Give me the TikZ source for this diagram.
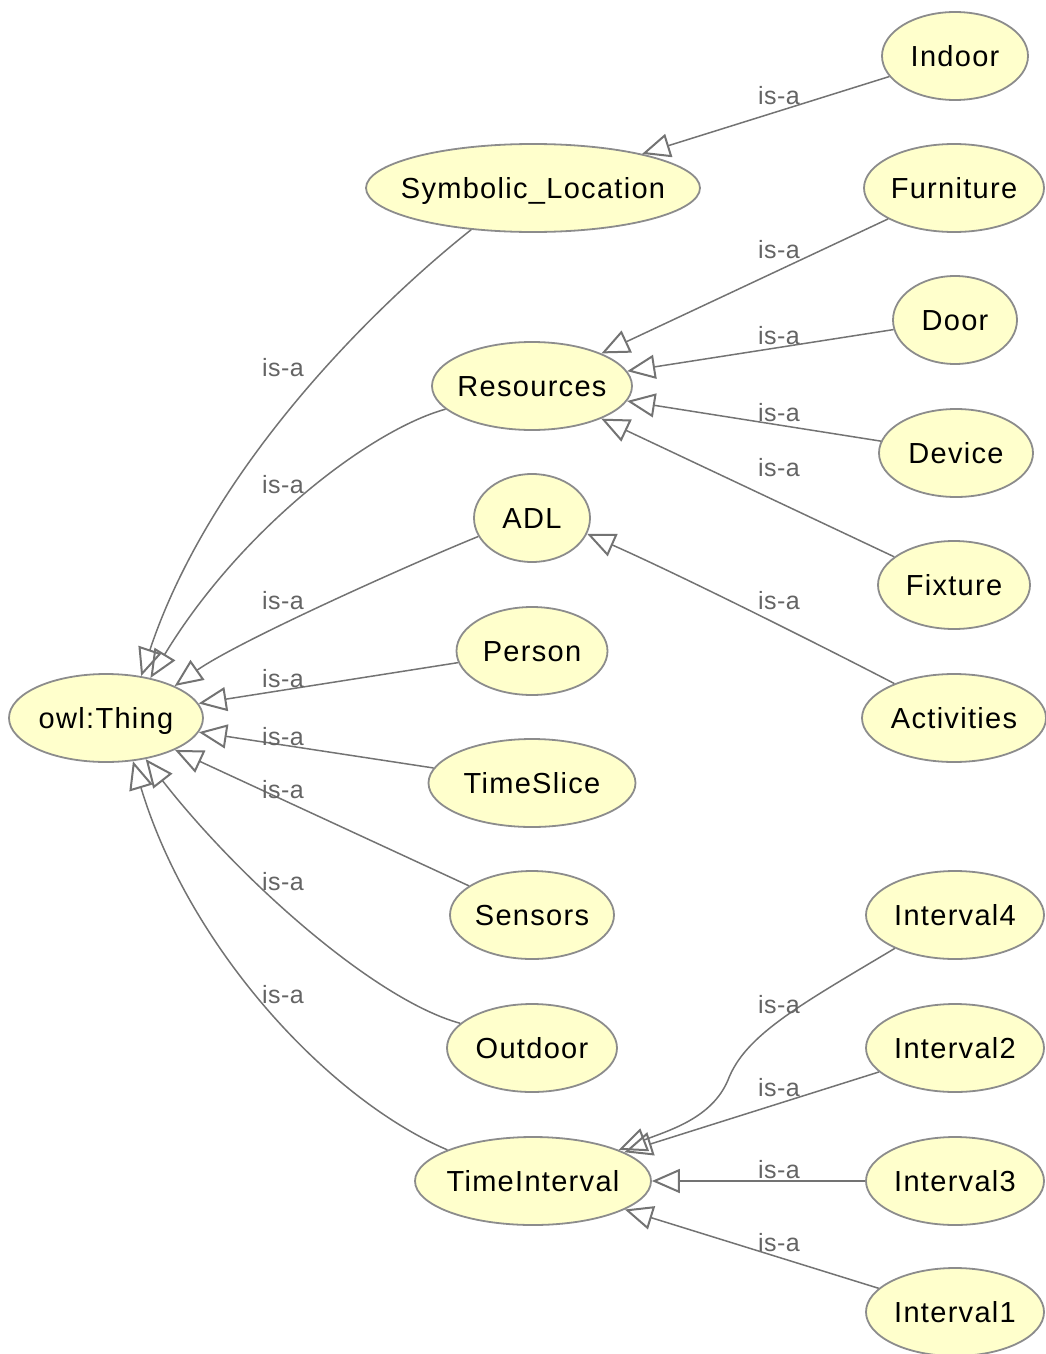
\documentclass[tikz,border=0pt]{standalone}
\usepackage{fontspec}
\setmainfont{Liberation Sans}
\newfontfamily\classfont{Liberation Sans}[LetterSpace=4.5]
\newfontfamily\relfont{Liberation Sans}[LetterSpace=2]
\usetikzlibrary{shapes.geometric,arrows.meta}
\definecolor{classfill}{RGB}{255,255,204}
\definecolor{classline}{RGB}{140,140,140}
\definecolor{edgeline}{RGB}{115,115,115}
\definecolor{reltext}{RGB}{100,100,100}
% class names are set in a zero-width box so the ellipse keeps its given size
\newcommand\cname[1]{\makebox[0pt]{#1}}
\tikzset{
  cls/.style={ellipse, draw=classline, line width=1.8pt, fill=classfill,
    inner sep=0pt, minimum height=88pt, minimum width=#1,
    font=\classfont\fontsize{29}{34}\selectfont, text height=21pt, text depth=0pt},
  isa/.style={draw=edgeline, line width=1.5pt,
    -{Triangle[open, length=28pt, width=24pt, line width=2pt]}},
  rel/.style={text=reltext, font=\relfont\fontsize{25}{30}\selectfont, inner sep=0pt},
}
\begin{document}
\begin{tikzpicture}[x=1pt,y=-1pt]
\useasboundingbox (0,0) rectangle (1046,1354);

% classes
\node[cls=146pt] (indoor)    at (955,56)   {\cname{Indoor}};
\node[cls=334pt] (sl)        at (533,188)  {\cname{Symbolic\_Location}};
\node[cls=180pt] (furniture) at (954,188)  {\cname{Furniture}};
\node[cls=124pt] (door)      at (955,320)  {\cname{Door}};
\node[cls=200pt] (res)       at (532,386)  {\cname{Resources}};
\node[cls=154pt] (device)    at (956,453)  {\cname{Device}};
\node[cls=116pt] (adl)       at (532,518)  {\cname{ADL}};
\node[cls=152pt] (fixture)   at (954,585)  {\cname{Fixture}};
\node[cls=151pt] (person)    at (532,651)  {\cname{Person}};
\node[cls=194pt] (thing)     at (106,718)  {\cname{owl:Thing}};
\node[cls=184pt] (act)       at (954,718)  {\cname{Activities}};
\node[cls=207pt] (tslice)    at (532,783)  {\cname{TimeSlice}};
\node[cls=164pt] (sensors)   at (532,915)  {\cname{Sensors}};
\node[cls=178pt] (i4)        at (955,915)  {\cname{Interval4}};
\node[cls=170pt] (outdoor)   at (532,1048) {\cname{Outdoor}};
\node[cls=178pt] (i2)        at (955,1048) {\cname{Interval2}};
\node[cls=236pt] (ti)        at (533,1181) {\cname{TimeInterval}};
\node[cls=178pt] (i3)        at (955,1181) {\cname{Interval3}};
\node[cls=178pt] (i1)        at (955,1312) {\cname{Interval1}};

% subclass links into owl:Thing
\draw[isa] (sl.214) .. controls (370,310) and (210,470) .. (thing.50);
\draw[isa] (res.195) .. controls (370,430) and (240,530) .. (thing.42);
\draw[isa] (adl.199) .. controls (420,560) and (240,640) .. (thing.25);
\draw[isa] (person) -- (thing);
\draw[isa] (tslice) -- (thing);
\draw[isa] (sensors) -- (thing);
\draw[isa] (outdoor.161) .. controls (375,1000) and (240,880) .. (thing.-46);
\draw[isa] (ti.160) .. controls (330,1100) and (190,950) .. (thing.-58);

% subclass links on the right
\draw[isa] (indoor) -- (sl);
\draw[isa] (furniture) -- (res);
\draw[isa] (door) -- (res);
\draw[isa] (device) -- (res);
\draw[isa] (fixture) -- (res);
\draw[isa] (act.150) .. controls (820,645) and (680,575) .. (adl.-16);
\draw[isa] (i4.209) .. controls (800,1005) and (745,1035) .. (728,1080)
           .. controls (712,1118) and (670,1130) .. (ti.20);
\draw[isa] (i2) -- (ti);
\draw[isa] (i3) -- (ti);
\draw[isa] (i1) -- (ti);

% relation labels
\foreach \y in {368,485,601,679,737,790,882,995}
  \node[rel] at (283,\y) {is-a};
\foreach \y in {96,250,336,413,468,601,1005,1088,1170,1243}
  \node[rel] at (779,\y) {is-a};
\end{tikzpicture}
\end{document}
